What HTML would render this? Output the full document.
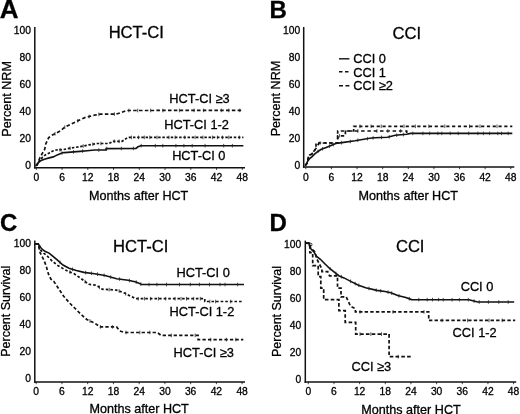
<!DOCTYPE html>
<html><head><meta charset="utf-8"><style>
html,body{margin:0;padding:0;background:#fff;}
body{width:520px;height:414px;overflow:hidden;}
svg{display:block;filter:grayscale(1);}
text{font-family:"Liberation Sans", sans-serif;fill:#000;stroke:#000;stroke-width:0.3px;}
</style></head><body>
<svg width="520" height="414" viewBox="0 0 520 414">
<text x="-0.3" y="17.6" font-size="26" text-anchor="start" font-weight="bold">A</text>
<line x1="34.8" y1="27" x2="34.8" y2="168.45" stroke="#111" stroke-width="1.5"/>
<line x1="34.05" y1="167.7" x2="245" y2="167.7" stroke="#111" stroke-width="1.5"/>
<text x="31.0" y="34.2" font-size="10.3" text-anchor="end" font-weight="normal">100</text>
<text x="31.0" y="61.16" font-size="10.3" text-anchor="end" font-weight="normal">80</text>
<text x="31.0" y="88.12" font-size="10.3" text-anchor="end" font-weight="normal">60</text>
<text x="31.0" y="115.08" font-size="10.3" text-anchor="end" font-weight="normal">40</text>
<text x="31.0" y="142.04" font-size="10.3" text-anchor="end" font-weight="normal">20</text>
<text x="31.0" y="169.0" font-size="10.3" text-anchor="end" font-weight="normal">0</text>
<text x="36.3" y="181.2" font-size="10.3" text-anchor="middle" font-weight="normal">0</text>
<line x1="36.3" y1="167.7" x2="36.3" y2="169.89999999999998" stroke="#111" stroke-width="0.8"/>
<text x="62.05" y="181.2" font-size="10.3" text-anchor="middle" font-weight="normal">6</text>
<line x1="62.05" y1="167.7" x2="62.05" y2="169.89999999999998" stroke="#111" stroke-width="0.8"/>
<text x="87.8" y="181.2" font-size="10.3" text-anchor="middle" font-weight="normal">12</text>
<line x1="87.8" y1="167.7" x2="87.8" y2="169.89999999999998" stroke="#111" stroke-width="0.8"/>
<text x="113.56" y="181.2" font-size="10.3" text-anchor="middle" font-weight="normal">18</text>
<line x1="113.56" y1="167.7" x2="113.56" y2="169.89999999999998" stroke="#111" stroke-width="0.8"/>
<text x="139.31" y="181.2" font-size="10.3" text-anchor="middle" font-weight="normal">24</text>
<line x1="139.31" y1="167.7" x2="139.31" y2="169.89999999999998" stroke="#111" stroke-width="0.8"/>
<text x="165.06" y="181.2" font-size="10.3" text-anchor="middle" font-weight="normal">30</text>
<line x1="165.06" y1="167.7" x2="165.06" y2="169.89999999999998" stroke="#111" stroke-width="0.8"/>
<text x="190.81" y="181.2" font-size="10.3" text-anchor="middle" font-weight="normal">36</text>
<line x1="190.81" y1="167.7" x2="190.81" y2="169.89999999999998" stroke="#111" stroke-width="0.8"/>
<text x="216.56" y="181.2" font-size="10.3" text-anchor="middle" font-weight="normal">42</text>
<line x1="216.56" y1="167.7" x2="216.56" y2="169.89999999999998" stroke="#111" stroke-width="0.8"/>
<text x="242.32" y="181.2" font-size="10.3" text-anchor="middle" font-weight="normal">48</text>
<line x1="242.32" y1="167.7" x2="242.32" y2="169.89999999999998" stroke="#111" stroke-width="0.8"/>
<text x="136.3" y="38.4" font-size="16.6" text-anchor="middle" font-weight="normal">HCT-CI</text>
<text x="138.6" y="199.6" font-size="12.6" text-anchor="middle" font-weight="normal">Months after HCT</text>
<text x="10.6" y="98.9" font-size="12.6" text-anchor="middle" font-weight="normal" transform="rotate(-90 10.6 98.9)">Percent NRM</text>
<text x="199.5" y="102.6" font-size="12.8" text-anchor="middle" font-weight="normal">HCT-CI &#8805;3</text>
<text x="196.6" y="128.7" font-size="12.8" text-anchor="middle" font-weight="normal">HCT-CI 1-2</text>
<text x="198.8" y="160.1" font-size="12.8" text-anchor="middle" font-weight="normal">HCT-CI 0</text>
<polyline points="36.2,165.6 37.1,164.5 40.1,157.4 42.6,152.8 44.7,149.3 45.7,144.2 47.2,140.7 48.7,137.6 52.3,135.1 56.3,133.1 60.9,130.5 64.4,127.4 70.2,124.5 77.5,120.9 85.4,117.4 94.5,115.2 100.3,114.1 116.2,114.1 122.0,112.3 126.4,110.5 243.4,110.4" fill="none" stroke="#111" stroke-width="1.7" stroke-linejoin="miter" stroke-dasharray="3.5 2.3"/>
<polyline points="36.2,165.6 37.1,164.5 39.1,161.2 42.6,157.2 45.7,154.7 49.2,153.0 52.8,151.0 56.3,150.0 63.0,149.6 71.7,147.9 80.0,146.7 88.7,144.9 97.4,143.5 109.0,143.5 113.3,141.3 122.0,141.3 126.4,138.4 129.3,137.4 243.4,137.4" fill="none" stroke="#111" stroke-width="1.7" stroke-linejoin="miter" stroke-dasharray="2.5 1.7"/>
<polyline points="35.5,165.8 37.1,165.0 38.1,163.0 41.1,160.5 45.2,158.9 49.2,157.9 53.3,156.9 57.3,154.9 62.4,152.8 64.4,152.6 80.0,151.4 87.2,150.7 94.5,150.0 106.1,150.0 106.1,148.6 136.0,148.4 138.0,146.8 140.8,145.7 243.4,145.7" fill="none" stroke="#111" stroke-width="1.6" stroke-linejoin="miter"/>
<line x1="62.0" y1="151.2" x2="62.0" y2="154.8" stroke="#222" stroke-width="0.8"/>
<line x1="73.5" y1="150.1" x2="73.5" y2="153.7" stroke="#222" stroke-width="0.8"/>
<line x1="82.6" y1="149.3" x2="82.6" y2="152.9" stroke="#222" stroke-width="0.8"/>
<line x1="98.8" y1="148.2" x2="98.8" y2="151.8" stroke="#222" stroke-width="0.8"/>
<line x1="106.8" y1="146.8" x2="106.8" y2="150.4" stroke="#222" stroke-width="0.8"/>
<line x1="121.3" y1="146.7" x2="121.3" y2="150.3" stroke="#222" stroke-width="0.8"/>
<line x1="133.4" y1="146.6" x2="133.4" y2="150.2" stroke="#222" stroke-width="0.8"/>
<line x1="141.2" y1="143.9" x2="141.2" y2="147.5" stroke="#222" stroke-width="0.8"/>
<line x1="155.3" y1="143.9" x2="155.3" y2="147.5" stroke="#222" stroke-width="0.8"/>
<line x1="162.8" y1="143.9" x2="162.8" y2="147.5" stroke="#222" stroke-width="0.8"/>
<line x1="175.9" y1="143.9" x2="175.9" y2="147.5" stroke="#222" stroke-width="0.8"/>
<line x1="183.9" y1="143.9" x2="183.9" y2="147.5" stroke="#222" stroke-width="0.8"/>
<line x1="192.2" y1="143.9" x2="192.2" y2="147.5" stroke="#222" stroke-width="0.8"/>
<line x1="205.1" y1="143.9" x2="205.1" y2="147.5" stroke="#222" stroke-width="0.8"/>
<line x1="223.7" y1="143.9" x2="223.7" y2="147.5" stroke="#222" stroke-width="0.8"/>
<line x1="232.4" y1="143.9" x2="232.4" y2="147.5" stroke="#222" stroke-width="0.8"/>
<line x1="60.0" y1="148.0" x2="60.0" y2="151.6" stroke="#222" stroke-width="0.8"/>
<line x1="70.1" y1="146.4" x2="70.1" y2="150.0" stroke="#222" stroke-width="0.8"/>
<line x1="83.2" y1="144.2" x2="83.2" y2="147.8" stroke="#222" stroke-width="0.8"/>
<line x1="92.9" y1="142.4" x2="92.9" y2="146.0" stroke="#222" stroke-width="0.8"/>
<line x1="100.9" y1="141.7" x2="100.9" y2="145.3" stroke="#222" stroke-width="0.8"/>
<line x1="114.2" y1="139.5" x2="114.2" y2="143.1" stroke="#222" stroke-width="0.8"/>
<line x1="119.1" y1="139.5" x2="119.1" y2="143.1" stroke="#222" stroke-width="0.8"/>
<line x1="131.4" y1="135.6" x2="131.4" y2="139.2" stroke="#222" stroke-width="0.8"/>
<line x1="138.5" y1="135.6" x2="138.5" y2="139.2" stroke="#222" stroke-width="0.8"/>
<line x1="144.3" y1="135.6" x2="144.3" y2="139.2" stroke="#222" stroke-width="0.8"/>
<line x1="149.8" y1="135.6" x2="149.8" y2="139.2" stroke="#222" stroke-width="0.8"/>
<line x1="157.1" y1="135.6" x2="157.1" y2="139.2" stroke="#222" stroke-width="0.8"/>
<line x1="169.0" y1="135.6" x2="169.0" y2="139.2" stroke="#222" stroke-width="0.8"/>
<line x1="175.1" y1="135.6" x2="175.1" y2="139.2" stroke="#222" stroke-width="0.8"/>
<line x1="184.8" y1="135.6" x2="184.8" y2="139.2" stroke="#222" stroke-width="0.8"/>
<line x1="195.1" y1="135.6" x2="195.1" y2="139.2" stroke="#222" stroke-width="0.8"/>
<line x1="202.9" y1="135.6" x2="202.9" y2="139.2" stroke="#222" stroke-width="0.8"/>
<line x1="212.4" y1="135.6" x2="212.4" y2="139.2" stroke="#222" stroke-width="0.8"/>
<line x1="217.4" y1="135.6" x2="217.4" y2="139.2" stroke="#222" stroke-width="0.8"/>
<line x1="222.5" y1="135.6" x2="222.5" y2="139.2" stroke="#222" stroke-width="0.8"/>
<line x1="228.8" y1="135.6" x2="228.8" y2="139.2" stroke="#222" stroke-width="0.8"/>
<line x1="239.4" y1="135.6" x2="239.4" y2="139.2" stroke="#222" stroke-width="0.8"/>
<line x1="55.0" y1="131.9" x2="55.0" y2="135.6" stroke="#222" stroke-width="0.8"/>
<line x1="64.8" y1="125.4" x2="64.8" y2="129.0" stroke="#222" stroke-width="0.8"/>
<line x1="77.8" y1="119.0" x2="77.8" y2="122.6" stroke="#222" stroke-width="0.8"/>
<line x1="89.2" y1="114.7" x2="89.2" y2="118.3" stroke="#222" stroke-width="0.8"/>
<line x1="98.8" y1="112.6" x2="98.8" y2="116.2" stroke="#222" stroke-width="0.8"/>
<line x1="114.4" y1="112.3" x2="114.4" y2="115.9" stroke="#222" stroke-width="0.8"/>
<line x1="128.8" y1="108.7" x2="128.8" y2="112.3" stroke="#222" stroke-width="0.8"/>
<line x1="137.7" y1="108.7" x2="137.7" y2="112.3" stroke="#222" stroke-width="0.8"/>
<line x1="150.6" y1="108.7" x2="150.6" y2="112.3" stroke="#222" stroke-width="0.8"/>
<line x1="162.9" y1="108.7" x2="162.9" y2="112.3" stroke="#222" stroke-width="0.8"/>
<line x1="179.4" y1="108.7" x2="179.4" y2="112.3" stroke="#222" stroke-width="0.8"/>
<line x1="194.1" y1="108.6" x2="194.1" y2="112.2" stroke="#222" stroke-width="0.8"/>
<line x1="203.6" y1="108.6" x2="203.6" y2="112.2" stroke="#222" stroke-width="0.8"/>
<line x1="221.3" y1="108.6" x2="221.3" y2="112.2" stroke="#222" stroke-width="0.8"/>
<line x1="228.8" y1="108.6" x2="228.8" y2="112.2" stroke="#222" stroke-width="0.8"/>
<line x1="239.8" y1="108.6" x2="239.8" y2="112.2" stroke="#222" stroke-width="0.8"/>
<text x="269.5" y="17.8" font-size="24" text-anchor="start" font-weight="bold">B</text>
<line x1="303.7" y1="27" x2="303.7" y2="167.75" stroke="#111" stroke-width="1.5"/>
<line x1="302.95" y1="167.0" x2="514.3" y2="167.0" stroke="#111" stroke-width="1.5"/>
<text x="300.3" y="33.8" font-size="10.3" text-anchor="end" font-weight="normal">100</text>
<text x="300.3" y="60.84" font-size="10.3" text-anchor="end" font-weight="normal">80</text>
<text x="300.3" y="87.88" font-size="10.3" text-anchor="end" font-weight="normal">60</text>
<text x="300.3" y="114.92" font-size="10.3" text-anchor="end" font-weight="normal">40</text>
<text x="300.3" y="141.96" font-size="10.3" text-anchor="end" font-weight="normal">20</text>
<text x="300.3" y="169.0" font-size="10.3" text-anchor="end" font-weight="normal">0</text>
<text x="305.8" y="181.3" font-size="10.3" text-anchor="middle" font-weight="normal">0</text>
<line x1="305.8" y1="167.0" x2="305.8" y2="169.2" stroke="#111" stroke-width="0.8"/>
<text x="331.42" y="181.3" font-size="10.3" text-anchor="middle" font-weight="normal">6</text>
<line x1="331.42" y1="167.0" x2="331.42" y2="169.2" stroke="#111" stroke-width="0.8"/>
<text x="357.04" y="181.3" font-size="10.3" text-anchor="middle" font-weight="normal">12</text>
<line x1="357.04" y1="167.0" x2="357.04" y2="169.2" stroke="#111" stroke-width="0.8"/>
<text x="382.66" y="181.3" font-size="10.3" text-anchor="middle" font-weight="normal">18</text>
<line x1="382.66" y1="167.0" x2="382.66" y2="169.2" stroke="#111" stroke-width="0.8"/>
<text x="408.28" y="181.3" font-size="10.3" text-anchor="middle" font-weight="normal">24</text>
<line x1="408.28" y1="167.0" x2="408.28" y2="169.2" stroke="#111" stroke-width="0.8"/>
<text x="433.9" y="181.3" font-size="10.3" text-anchor="middle" font-weight="normal">30</text>
<line x1="433.9" y1="167.0" x2="433.9" y2="169.2" stroke="#111" stroke-width="0.8"/>
<text x="459.52" y="181.3" font-size="10.3" text-anchor="middle" font-weight="normal">36</text>
<line x1="459.52" y1="167.0" x2="459.52" y2="169.2" stroke="#111" stroke-width="0.8"/>
<text x="485.14" y="181.3" font-size="10.3" text-anchor="middle" font-weight="normal">42</text>
<line x1="485.14" y1="167.0" x2="485.14" y2="169.2" stroke="#111" stroke-width="0.8"/>
<text x="510.76" y="181.3" font-size="10.3" text-anchor="middle" font-weight="normal">48</text>
<line x1="510.76" y1="167.0" x2="510.76" y2="169.2" stroke="#111" stroke-width="0.8"/>
<text x="406.9" y="38.5" font-size="16.6" text-anchor="middle" font-weight="normal">CCI</text>
<text x="408.3" y="199.6" font-size="12.6" text-anchor="middle" font-weight="normal">Months after HCT</text>
<text x="280.0" y="98.5" font-size="12.6" text-anchor="middle" font-weight="normal" transform="rotate(-90 280.0 98.5)">Percent NRM</text>
<line x1="339" y1="58.8" x2="349.4" y2="58.8" stroke="#111" stroke-width="1.4"/>
<line x1="339" y1="71.8" x2="349" y2="71.8" stroke="#111" stroke-width="1.4" stroke-dasharray="3.5 2.5"/>
<line x1="339" y1="85.7" x2="349.4" y2="85.7" stroke="#111" stroke-width="1.4" stroke-dasharray="4 2.5"/>
<text x="353.2" y="63.2" font-size="12.8" text-anchor="start" font-weight="normal">CCI 0</text>
<text x="353.2" y="76.5" font-size="12.8" text-anchor="start" font-weight="normal">CCI 1</text>
<text x="353.2" y="90.3" font-size="12.8" text-anchor="start" font-weight="normal">CCI &#8805;2</text>
<polyline points="305.2,165.6 307.3,162.9 308.8,155.1 311.7,154.2 316.0,148.4 319.0,143.0 337.7,143.0 337.7,135.8 345.4,135.8 345.4,131.0 406.7,131.0 406.7,133.4" fill="none" stroke="#111" stroke-width="1.7" stroke-linejoin="miter" stroke-dasharray="3.5 2.8"/>
<polyline points="305.2,165.6 307.3,162.9 308.8,155.1 311.7,154.2 316.0,148.4 316.0,143.0 337.7,143.0 337.7,131.0 353.7,131.0 353.7,126.3 512.3,126.3" fill="none" stroke="#111" stroke-width="1.7" stroke-linejoin="miter" stroke-dasharray="3.2 2.6"/>
<polyline points="305.2,165.6 306.3,164.3 307.8,160.9 309.7,158.5 312.1,156.6 314.6,154.2 317.5,151.7 321.3,149.3 326.2,147.4 331.0,145.5 335.8,143.5 342.0,142.6 355.0,140.8 369.8,138.3 375.0,137.7 387.5,137.2 395.2,135.3 406.7,134.3 410.6,133.4 512.3,133.4" fill="none" stroke="#111" stroke-width="1.6" stroke-linejoin="miter"/>
<line x1="318.0" y1="149.6" x2="318.0" y2="153.2" stroke="#222" stroke-width="0.8"/>
<line x1="322.6" y1="147.0" x2="322.6" y2="150.6" stroke="#222" stroke-width="0.8"/>
<line x1="329.5" y1="144.3" x2="329.5" y2="147.9" stroke="#222" stroke-width="0.8"/>
<line x1="333.3" y1="142.8" x2="333.3" y2="146.4" stroke="#222" stroke-width="0.8"/>
<line x1="341.4" y1="140.9" x2="341.4" y2="144.5" stroke="#222" stroke-width="0.8"/>
<line x1="350.3" y1="139.7" x2="350.3" y2="143.3" stroke="#222" stroke-width="0.8"/>
<line x1="357.8" y1="138.5" x2="357.8" y2="142.1" stroke="#222" stroke-width="0.8"/>
<line x1="367.4" y1="136.9" x2="367.4" y2="140.5" stroke="#222" stroke-width="0.8"/>
<line x1="373.1" y1="136.1" x2="373.1" y2="139.7" stroke="#222" stroke-width="0.8"/>
<line x1="381.5" y1="135.6" x2="381.5" y2="139.2" stroke="#222" stroke-width="0.8"/>
<line x1="389.2" y1="135.0" x2="389.2" y2="138.6" stroke="#222" stroke-width="0.8"/>
<line x1="396.7" y1="133.4" x2="396.7" y2="137.0" stroke="#222" stroke-width="0.8"/>
<line x1="403.4" y1="132.8" x2="403.4" y2="136.4" stroke="#222" stroke-width="0.8"/>
<line x1="412.8" y1="131.6" x2="412.8" y2="135.2" stroke="#222" stroke-width="0.8"/>
<line x1="422.9" y1="131.6" x2="422.9" y2="135.2" stroke="#222" stroke-width="0.8"/>
<line x1="429.7" y1="131.6" x2="429.7" y2="135.2" stroke="#222" stroke-width="0.8"/>
<line x1="437.9" y1="131.6" x2="437.9" y2="135.2" stroke="#222" stroke-width="0.8"/>
<line x1="441.8" y1="131.6" x2="441.8" y2="135.2" stroke="#222" stroke-width="0.8"/>
<line x1="450.2" y1="131.6" x2="450.2" y2="135.2" stroke="#222" stroke-width="0.8"/>
<line x1="458.2" y1="131.6" x2="458.2" y2="135.2" stroke="#222" stroke-width="0.8"/>
<line x1="468.7" y1="131.6" x2="468.7" y2="135.2" stroke="#222" stroke-width="0.8"/>
<line x1="477.9" y1="131.6" x2="477.9" y2="135.2" stroke="#222" stroke-width="0.8"/>
<line x1="483.4" y1="131.6" x2="483.4" y2="135.2" stroke="#222" stroke-width="0.8"/>
<line x1="489.6" y1="131.6" x2="489.6" y2="135.2" stroke="#222" stroke-width="0.8"/>
<line x1="497.8" y1="131.6" x2="497.8" y2="135.2" stroke="#222" stroke-width="0.8"/>
<line x1="501.5" y1="131.6" x2="501.5" y2="135.2" stroke="#222" stroke-width="0.8"/>
<line x1="508.2" y1="131.6" x2="508.2" y2="135.2" stroke="#222" stroke-width="0.8"/>
<line x1="360.0" y1="124.5" x2="360.0" y2="128.1" stroke="#222" stroke-width="0.8"/>
<line x1="371.1" y1="124.5" x2="371.1" y2="128.1" stroke="#222" stroke-width="0.8"/>
<line x1="381.2" y1="124.5" x2="381.2" y2="128.1" stroke="#222" stroke-width="0.8"/>
<line x1="404.0" y1="124.5" x2="404.0" y2="128.1" stroke="#222" stroke-width="0.8"/>
<line x1="415.3" y1="124.5" x2="415.3" y2="128.1" stroke="#222" stroke-width="0.8"/>
<line x1="428.8" y1="124.5" x2="428.8" y2="128.1" stroke="#222" stroke-width="0.8"/>
<line x1="444.8" y1="124.5" x2="444.8" y2="128.1" stroke="#222" stroke-width="0.8"/>
<line x1="469.5" y1="124.5" x2="469.5" y2="128.1" stroke="#222" stroke-width="0.8"/>
<line x1="480.0" y1="124.5" x2="480.0" y2="128.1" stroke="#222" stroke-width="0.8"/>
<line x1="497.0" y1="124.5" x2="497.0" y2="128.1" stroke="#222" stroke-width="0.8"/>
<line x1="320.0" y1="141.2" x2="320.0" y2="144.8" stroke="#222" stroke-width="0.8"/>
<line x1="339.4" y1="134.0" x2="339.4" y2="137.6" stroke="#222" stroke-width="0.8"/>
<line x1="357.8" y1="129.2" x2="357.8" y2="132.8" stroke="#222" stroke-width="0.8"/>
<line x1="376.9" y1="129.2" x2="376.9" y2="132.8" stroke="#222" stroke-width="0.8"/>
<line x1="387.8" y1="129.2" x2="387.8" y2="132.8" stroke="#222" stroke-width="0.8"/>
<line x1="400.6" y1="129.2" x2="400.6" y2="132.8" stroke="#222" stroke-width="0.8"/>
<text x="0.0" y="231.3" font-size="24" text-anchor="start" font-weight="bold">C</text>
<line x1="34.8" y1="240.6" x2="34.8" y2="382.75" stroke="#111" stroke-width="1.5"/>
<line x1="34.05" y1="382.0" x2="245" y2="382.0" stroke="#111" stroke-width="1.5"/>
<text x="31.0" y="247.4" font-size="10.3" text-anchor="end" font-weight="normal">100</text>
<text x="31.0" y="274.4" font-size="10.3" text-anchor="end" font-weight="normal">80</text>
<text x="31.0" y="301.4" font-size="10.3" text-anchor="end" font-weight="normal">60</text>
<text x="31.0" y="328.4" font-size="10.3" text-anchor="end" font-weight="normal">40</text>
<text x="31.0" y="355.4" font-size="10.3" text-anchor="end" font-weight="normal">20</text>
<text x="31.0" y="382.4" font-size="10.3" text-anchor="end" font-weight="normal">0</text>
<text x="36.2" y="394.7" font-size="10.3" text-anchor="middle" font-weight="normal">0</text>
<line x1="36.2" y1="382.0" x2="36.2" y2="384.2" stroke="#111" stroke-width="0.8"/>
<text x="61.94" y="394.7" font-size="10.3" text-anchor="middle" font-weight="normal">6</text>
<line x1="61.94" y1="382.0" x2="61.94" y2="384.2" stroke="#111" stroke-width="0.8"/>
<text x="87.68" y="394.7" font-size="10.3" text-anchor="middle" font-weight="normal">12</text>
<line x1="87.68" y1="382.0" x2="87.68" y2="384.2" stroke="#111" stroke-width="0.8"/>
<text x="113.42" y="394.7" font-size="10.3" text-anchor="middle" font-weight="normal">18</text>
<line x1="113.42" y1="382.0" x2="113.42" y2="384.2" stroke="#111" stroke-width="0.8"/>
<text x="139.16" y="394.7" font-size="10.3" text-anchor="middle" font-weight="normal">24</text>
<line x1="139.16" y1="382.0" x2="139.16" y2="384.2" stroke="#111" stroke-width="0.8"/>
<text x="164.9" y="394.7" font-size="10.3" text-anchor="middle" font-weight="normal">30</text>
<line x1="164.9" y1="382.0" x2="164.9" y2="384.2" stroke="#111" stroke-width="0.8"/>
<text x="190.64" y="394.7" font-size="10.3" text-anchor="middle" font-weight="normal">36</text>
<line x1="190.64" y1="382.0" x2="190.64" y2="384.2" stroke="#111" stroke-width="0.8"/>
<text x="216.38" y="394.7" font-size="10.3" text-anchor="middle" font-weight="normal">42</text>
<line x1="216.38" y1="382.0" x2="216.38" y2="384.2" stroke="#111" stroke-width="0.8"/>
<text x="242.12" y="394.7" font-size="10.3" text-anchor="middle" font-weight="normal">48</text>
<line x1="242.12" y1="382.0" x2="242.12" y2="384.2" stroke="#111" stroke-width="0.8"/>
<text x="140.7" y="251.5" font-size="16.6" text-anchor="middle" font-weight="normal">HCT-CI</text>
<text x="139.1" y="413.0" font-size="12.6" text-anchor="middle" font-weight="normal">Months after HCT</text>
<text x="10.5" y="311.3" font-size="12.5" text-anchor="middle" font-weight="normal" transform="rotate(-90 10.5 311.3)">Percent Survival</text>
<text x="203.1" y="277.4" font-size="12.8" text-anchor="middle" font-weight="normal">HCT-CI 0</text>
<text x="201.9" y="316.0" font-size="12.8" text-anchor="middle" font-weight="normal">HCT-CI 1-2</text>
<text x="203.8" y="356.6" font-size="12.8" text-anchor="middle" font-weight="normal">HCT-CI &#8805;3</text>
<polyline points="35.2,243.8 38.2,243.9 40.0,252.5 43.7,259.7 46.1,265.8 48.5,274.2 50.9,279.1 53.9,281.5 57.7,287.2 63.5,296.0 69.3,302.7 75.1,308.5 81.0,314.3 86.8,319.5 94.5,323.0 100.3,326.9 116.6,326.9 119.5,330.8 124.3,332.5 157.2,332.5 161.1,335.4 198.1,335.4 198.1,339.6 243.3,339.6" fill="none" stroke="#111" stroke-width="1.7" stroke-linejoin="miter" stroke-dasharray="3.3 2.2"/>
<polyline points="35.2,243.8 38.2,243.9 40.6,250.1 43.7,253.1 47.3,256.1 52.1,261.0 58.2,265.8 65.4,270.0 69.3,271.8 73.9,273.6 81.0,278.5 88.7,284.3 96.4,285.3 102.2,289.2 116.6,290.1 124.3,293.0 130.1,296.0 136.0,298.7 204.8,298.7 204.8,301.5 243.3,301.5" fill="none" stroke="#111" stroke-width="1.7" stroke-linejoin="miter" stroke-dasharray="2.6 2"/>
<polyline points="35.2,243.8 38.2,243.9 41.2,248.3 44.9,251.3 49.1,253.1 52.7,256.1 56.9,259.7 63.0,265.0 69.0,268.2 76.3,270.6 84.0,272.4 94.5,273.7 105.0,275.5 116.6,278.7 128.2,280.2 136.0,282.0 141.8,284.5 244.0,284.5" fill="none" stroke="#111" stroke-width="1.6" stroke-linejoin="miter"/>
<line x1="60.0" y1="260.6" x2="60.0" y2="264.2" stroke="#222" stroke-width="0.8"/>
<line x1="72.5" y1="267.5" x2="72.5" y2="271.1" stroke="#222" stroke-width="0.8"/>
<line x1="85.6" y1="270.8" x2="85.6" y2="274.4" stroke="#222" stroke-width="0.8"/>
<line x1="91.4" y1="271.5" x2="91.4" y2="275.1" stroke="#222" stroke-width="0.8"/>
<line x1="97.5" y1="272.4" x2="97.5" y2="276.0" stroke="#222" stroke-width="0.8"/>
<line x1="104.1" y1="273.5" x2="104.1" y2="277.1" stroke="#222" stroke-width="0.8"/>
<line x1="110.7" y1="275.3" x2="110.7" y2="278.9" stroke="#222" stroke-width="0.8"/>
<line x1="119.6" y1="277.3" x2="119.6" y2="280.9" stroke="#222" stroke-width="0.8"/>
<line x1="129.4" y1="278.7" x2="129.4" y2="282.3" stroke="#222" stroke-width="0.8"/>
<line x1="136.2" y1="280.3" x2="136.2" y2="283.9" stroke="#222" stroke-width="0.8"/>
<line x1="140.8" y1="282.3" x2="140.8" y2="285.9" stroke="#222" stroke-width="0.8"/>
<line x1="149.0" y1="282.7" x2="149.0" y2="286.3" stroke="#222" stroke-width="0.8"/>
<line x1="156.9" y1="282.7" x2="156.9" y2="286.3" stroke="#222" stroke-width="0.8"/>
<line x1="166.5" y1="282.7" x2="166.5" y2="286.3" stroke="#222" stroke-width="0.8"/>
<line x1="179.5" y1="282.7" x2="179.5" y2="286.3" stroke="#222" stroke-width="0.8"/>
<line x1="190.3" y1="282.7" x2="190.3" y2="286.3" stroke="#222" stroke-width="0.8"/>
<line x1="199.4" y1="282.7" x2="199.4" y2="286.3" stroke="#222" stroke-width="0.8"/>
<line x1="209.5" y1="282.7" x2="209.5" y2="286.3" stroke="#222" stroke-width="0.8"/>
<line x1="220.0" y1="282.7" x2="220.0" y2="286.3" stroke="#222" stroke-width="0.8"/>
<line x1="225.0" y1="282.7" x2="225.0" y2="286.3" stroke="#222" stroke-width="0.8"/>
<line x1="237.6" y1="282.7" x2="237.6" y2="286.3" stroke="#222" stroke-width="0.8"/>
<line x1="70.0" y1="270.3" x2="70.0" y2="273.9" stroke="#222" stroke-width="0.8"/>
<line x1="85.1" y1="279.8" x2="85.1" y2="283.4" stroke="#222" stroke-width="0.8"/>
<line x1="99.4" y1="285.5" x2="99.4" y2="289.1" stroke="#222" stroke-width="0.8"/>
<line x1="109.2" y1="287.8" x2="109.2" y2="291.4" stroke="#222" stroke-width="0.8"/>
<line x1="119.1" y1="289.2" x2="119.1" y2="292.8" stroke="#222" stroke-width="0.8"/>
<line x1="125.7" y1="291.9" x2="125.7" y2="295.5" stroke="#222" stroke-width="0.8"/>
<line x1="138.2" y1="296.9" x2="138.2" y2="300.5" stroke="#222" stroke-width="0.8"/>
<line x1="144.4" y1="296.9" x2="144.4" y2="300.5" stroke="#222" stroke-width="0.8"/>
<line x1="150.6" y1="296.9" x2="150.6" y2="300.5" stroke="#222" stroke-width="0.8"/>
<line x1="158.4" y1="296.9" x2="158.4" y2="300.5" stroke="#222" stroke-width="0.8"/>
<line x1="165.7" y1="296.9" x2="165.7" y2="300.5" stroke="#222" stroke-width="0.8"/>
<line x1="175.0" y1="296.9" x2="175.0" y2="300.5" stroke="#222" stroke-width="0.8"/>
<line x1="181.0" y1="296.9" x2="181.0" y2="300.5" stroke="#222" stroke-width="0.8"/>
<line x1="186.5" y1="296.9" x2="186.5" y2="300.5" stroke="#222" stroke-width="0.8"/>
<line x1="193.7" y1="296.9" x2="193.7" y2="300.5" stroke="#222" stroke-width="0.8"/>
<line x1="200.3" y1="296.9" x2="200.3" y2="300.5" stroke="#222" stroke-width="0.8"/>
<line x1="209.8" y1="299.7" x2="209.8" y2="303.3" stroke="#222" stroke-width="0.8"/>
<line x1="215.6" y1="299.7" x2="215.6" y2="303.3" stroke="#222" stroke-width="0.8"/>
<line x1="230.7" y1="299.7" x2="230.7" y2="303.3" stroke="#222" stroke-width="0.8"/>
<line x1="90.0" y1="319.2" x2="90.0" y2="322.8" stroke="#222" stroke-width="0.8"/>
<line x1="100.4" y1="325.1" x2="100.4" y2="328.7" stroke="#222" stroke-width="0.8"/>
<line x1="112.4" y1="325.1" x2="112.4" y2="328.7" stroke="#222" stroke-width="0.8"/>
<line x1="126.0" y1="330.7" x2="126.0" y2="334.3" stroke="#222" stroke-width="0.8"/>
<line x1="139.8" y1="330.7" x2="139.8" y2="334.3" stroke="#222" stroke-width="0.8"/>
<line x1="149.8" y1="330.7" x2="149.8" y2="334.3" stroke="#222" stroke-width="0.8"/>
<line x1="171.3" y1="333.6" x2="171.3" y2="337.2" stroke="#222" stroke-width="0.8"/>
<line x1="195.2" y1="333.6" x2="195.2" y2="337.2" stroke="#222" stroke-width="0.8"/>
<line x1="210.7" y1="337.8" x2="210.7" y2="341.4" stroke="#222" stroke-width="0.8"/>
<line x1="226.4" y1="337.8" x2="226.4" y2="341.4" stroke="#222" stroke-width="0.8"/>
<line x1="235.8" y1="337.8" x2="235.8" y2="341.4" stroke="#222" stroke-width="0.8"/>
<text x="269.5" y="230.9" font-size="24" text-anchor="start" font-weight="bold">D</text>
<line x1="305.3" y1="240.6" x2="305.3" y2="382.75" stroke="#111" stroke-width="1.5"/>
<line x1="304.55" y1="382.0" x2="516.2" y2="382.0" stroke="#111" stroke-width="1.5"/>
<text x="301.3" y="248.0" font-size="10.3" text-anchor="end" font-weight="normal">100</text>
<text x="301.3" y="274.94" font-size="10.3" text-anchor="end" font-weight="normal">80</text>
<text x="301.3" y="301.88" font-size="10.3" text-anchor="end" font-weight="normal">60</text>
<text x="301.3" y="328.82" font-size="10.3" text-anchor="end" font-weight="normal">40</text>
<text x="301.3" y="355.76" font-size="10.3" text-anchor="end" font-weight="normal">20</text>
<text x="301.3" y="382.7" font-size="10.3" text-anchor="end" font-weight="normal">0</text>
<text x="308.3" y="395.3" font-size="10.3" text-anchor="middle" font-weight="normal">0</text>
<line x1="308.3" y1="382.0" x2="308.3" y2="384.2" stroke="#111" stroke-width="0.8"/>
<text x="333.96" y="395.3" font-size="10.3" text-anchor="middle" font-weight="normal">6</text>
<line x1="333.96" y1="382.0" x2="333.96" y2="384.2" stroke="#111" stroke-width="0.8"/>
<text x="359.62" y="395.3" font-size="10.3" text-anchor="middle" font-weight="normal">12</text>
<line x1="359.62" y1="382.0" x2="359.62" y2="384.2" stroke="#111" stroke-width="0.8"/>
<text x="385.29" y="395.3" font-size="10.3" text-anchor="middle" font-weight="normal">18</text>
<line x1="385.29" y1="382.0" x2="385.29" y2="384.2" stroke="#111" stroke-width="0.8"/>
<text x="410.95" y="395.3" font-size="10.3" text-anchor="middle" font-weight="normal">24</text>
<line x1="410.95" y1="382.0" x2="410.95" y2="384.2" stroke="#111" stroke-width="0.8"/>
<text x="436.61" y="395.3" font-size="10.3" text-anchor="middle" font-weight="normal">30</text>
<line x1="436.61" y1="382.0" x2="436.61" y2="384.2" stroke="#111" stroke-width="0.8"/>
<text x="462.27" y="395.3" font-size="10.3" text-anchor="middle" font-weight="normal">36</text>
<line x1="462.27" y1="382.0" x2="462.27" y2="384.2" stroke="#111" stroke-width="0.8"/>
<text x="487.93" y="395.3" font-size="10.3" text-anchor="middle" font-weight="normal">42</text>
<line x1="487.93" y1="382.0" x2="487.93" y2="384.2" stroke="#111" stroke-width="0.8"/>
<text x="513.6" y="395.3" font-size="10.3" text-anchor="middle" font-weight="normal">48</text>
<line x1="513.6" y1="382.0" x2="513.6" y2="384.2" stroke="#111" stroke-width="0.8"/>
<text x="410.2" y="251.5" font-size="16.6" text-anchor="middle" font-weight="normal">CCI</text>
<text x="411.0" y="413.5" font-size="12.6" text-anchor="middle" font-weight="normal">Months after HCT</text>
<text x="281.0" y="311.5" font-size="12.5" text-anchor="middle" font-weight="normal" transform="rotate(-90 281.0 311.5)">Percent Survival</text>
<text x="477.0" y="291.2" font-size="12.8" text-anchor="middle" font-weight="normal">CCI 0</text>
<text x="474.6" y="336.7" font-size="12.8" text-anchor="middle" font-weight="normal">CCI 1-2</text>
<text x="371.3" y="370.8" font-size="12.8" text-anchor="middle" font-weight="normal">CCI &#8805;3</text>
<polyline points="306.0,243.2 309.8,243.2 309.8,252.6 312.7,252.6 312.7,265.6 318.2,265.6 318.2,276.6 320.8,276.6 320.8,288.1 323.7,288.1 323.7,299.7 338.9,299.7 338.9,310.6 345.2,310.6 345.2,322.4 355.7,322.4 355.7,334.1 389.1,334.1 389.1,356.7 412.7,356.7" fill="none" stroke="#111" stroke-width="1.7" stroke-linejoin="miter" stroke-dasharray="3.6 2.2"/>
<polyline points="306.0,243.2 309.8,243.2 310.5,248.0 314.6,251.6 317.0,259.3 321.9,269.0 321.9,271.6 327.7,271.6 329.5,275.8 337.5,275.8 337.5,288.1 341.0,288.1 341.0,296.8 346.2,296.8 350.5,306.2 355.4,308.7 355.4,311.9 428.7,311.9 428.7,320.4 515.2,320.4" fill="none" stroke="#111" stroke-width="1.7" stroke-linejoin="miter" stroke-dasharray="3.4 2.2"/>
<polyline points="306.0,243.2 309.3,243.5 309.3,245.3 310.8,248.7 313.7,251.6 316.6,256.4 320.4,259.3 324.3,263.2 329.1,268.0 334.0,271.9 338.8,275.7 344.0,277.9 351.2,281.6 358.5,285.2 365.7,287.7 376.9,290.4 385.0,291.5 390.8,292.7 397.7,295.5 405.8,297.4 411.5,299.6 469.0,299.7 477.7,302.0 514.2,302.0" fill="none" stroke="#111" stroke-width="1.6" stroke-linejoin="miter"/>
<circle cx="310.6" cy="244.6" r="1.4" fill="none" stroke="#111" stroke-width="0.9"/>
<line x1="330.0" y1="266.9" x2="330.0" y2="270.5" stroke="#222" stroke-width="0.8"/>
<line x1="335.9" y1="271.6" x2="335.9" y2="275.2" stroke="#222" stroke-width="0.8"/>
<line x1="341.3" y1="274.9" x2="341.3" y2="278.5" stroke="#222" stroke-width="0.8"/>
<line x1="350.6" y1="279.5" x2="350.6" y2="283.1" stroke="#222" stroke-width="0.8"/>
<line x1="355.2" y1="281.8" x2="355.2" y2="285.4" stroke="#222" stroke-width="0.8"/>
<line x1="358.8" y1="283.5" x2="358.8" y2="287.1" stroke="#222" stroke-width="0.8"/>
<line x1="369.0" y1="286.7" x2="369.0" y2="290.3" stroke="#222" stroke-width="0.8"/>
<line x1="376.2" y1="288.4" x2="376.2" y2="292.0" stroke="#222" stroke-width="0.8"/>
<line x1="380.7" y1="289.1" x2="380.7" y2="292.7" stroke="#222" stroke-width="0.8"/>
<line x1="388.0" y1="290.3" x2="388.0" y2="293.9" stroke="#222" stroke-width="0.8"/>
<line x1="391.7" y1="291.3" x2="391.7" y2="294.9" stroke="#222" stroke-width="0.8"/>
<line x1="398.9" y1="294.0" x2="398.9" y2="297.6" stroke="#222" stroke-width="0.8"/>
<line x1="409.3" y1="296.9" x2="409.3" y2="300.5" stroke="#222" stroke-width="0.8"/>
<line x1="418.8" y1="297.8" x2="418.8" y2="301.4" stroke="#222" stroke-width="0.8"/>
<line x1="427.2" y1="297.8" x2="427.2" y2="301.4" stroke="#222" stroke-width="0.8"/>
<line x1="432.5" y1="297.8" x2="432.5" y2="301.4" stroke="#222" stroke-width="0.8"/>
<line x1="438.6" y1="297.8" x2="438.6" y2="301.4" stroke="#222" stroke-width="0.8"/>
<line x1="443.2" y1="297.9" x2="443.2" y2="301.5" stroke="#222" stroke-width="0.8"/>
<line x1="452.1" y1="297.9" x2="452.1" y2="301.5" stroke="#222" stroke-width="0.8"/>
<line x1="459.4" y1="297.9" x2="459.4" y2="301.5" stroke="#222" stroke-width="0.8"/>
<line x1="468.3" y1="297.9" x2="468.3" y2="301.5" stroke="#222" stroke-width="0.8"/>
<line x1="474.1" y1="299.3" x2="474.1" y2="302.9" stroke="#222" stroke-width="0.8"/>
<line x1="479.2" y1="300.2" x2="479.2" y2="303.8" stroke="#222" stroke-width="0.8"/>
<line x1="488.4" y1="300.2" x2="488.4" y2="303.8" stroke="#222" stroke-width="0.8"/>
<line x1="498.8" y1="300.2" x2="498.8" y2="303.8" stroke="#222" stroke-width="0.8"/>
<line x1="508.2" y1="300.2" x2="508.2" y2="303.8" stroke="#222" stroke-width="0.8"/>
<line x1="360.0" y1="310.1" x2="360.0" y2="313.7" stroke="#222" stroke-width="0.8"/>
<line x1="393.0" y1="310.1" x2="393.0" y2="313.7" stroke="#222" stroke-width="0.8"/>
<line x1="424.0" y1="310.1" x2="424.0" y2="313.7" stroke="#222" stroke-width="0.8"/>
<line x1="442.1" y1="318.6" x2="442.1" y2="322.2" stroke="#222" stroke-width="0.8"/>
<line x1="467.6" y1="318.6" x2="467.6" y2="322.2" stroke="#222" stroke-width="0.8"/>
<line x1="489.0" y1="318.6" x2="489.0" y2="322.2" stroke="#222" stroke-width="0.8"/>
<line x1="502.2" y1="318.6" x2="502.2" y2="322.2" stroke="#222" stroke-width="0.8"/>
<line x1="360.0" y1="332.3" x2="360.0" y2="335.9" stroke="#222" stroke-width="0.8"/>
<line x1="370.9" y1="332.3" x2="370.9" y2="335.9" stroke="#222" stroke-width="0.8"/>
<line x1="381.5" y1="332.3" x2="381.5" y2="335.9" stroke="#222" stroke-width="0.8"/>
<line x1="398.2" y1="354.9" x2="398.2" y2="358.5" stroke="#222" stroke-width="0.8"/>
</svg>
</body></html>
